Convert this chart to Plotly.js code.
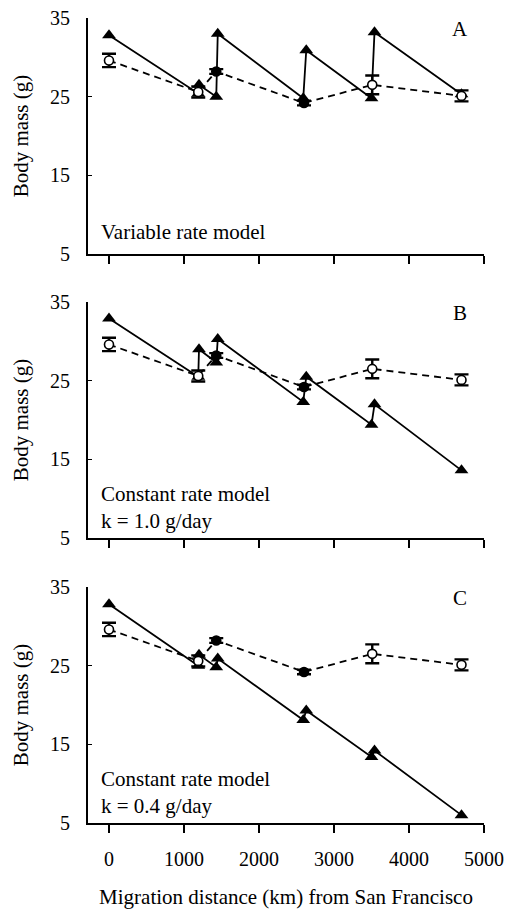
<!DOCTYPE html>
<html>
<head>
<meta charset="utf-8">
<script src="https://cdn.plot.ly/plotly-3.0.1.min.js"></script>
<style>html,body{margin:0;padding:0;background:#fff;}#chart{width:508px;height:909px;}</style>
</head>
<body>
<div id="chart"></div>
<script>
// Observed body mass (open circles, dashed line), mean ± error
const obsX = [0, 1190, 1430, 2600, 3510, 4700];
const obsY = [29.6, 25.6, 28.2, 24.2, 26.5, 25.1];
const obsErr = [0.85, 0.7, 0.3, 0.3, 1.2, 0.7];
const obsFilled = [false, false, true, true, false, false];

// Model predictions (triangles, solid line): arrival / departure at each stopover
const modelX = [0, 1190, 1200, 1430, 1450, 2590, 2630, 3500, 3540, 4700];
const modelA = [32.8, 25.4, 26.5, 25.0, 33.0, 24.8, 30.9, 24.8, 33.2, 25.3];
const modelB = [32.9, 25.5, 29.0, 27.3, 30.3, 22.3, 25.5, 19.4, 22.0, 13.6];
const modelC = [32.8, 25.0, 26.4, 24.8, 25.9, 18.1, 19.3, 13.4, 14.2, 6.0];

const panelLetters = ['A', 'B', 'C'];
const panelNotes = [['Variable rate model'], ['Constant rate model', 'k = 1.0 g/day'], ['Constant rate model', 'k = 0.4 g/day']];
const xTicks = [0, 1000, 2000, 3000, 4000, 5000];
const yTicks = [5, 15, 25, 35];

const FONT = 'Liberation Serif, Times New Roman, serif';
const models = [modelA, modelB, modelC];
const yDomains = [[0.7068, 1.0], [0.3540, 0.6472], [0.0, 0.2932]];

const traces = [];
models.forEach((m, i) => {
  const ax = i === 0 ? '' : String(i + 1);
  traces.push({
    x: modelX, y: m, xaxis: 'x' + ax, yaxis: 'y' + ax,
    mode: 'lines+markers', type: 'scatter', cliponaxis: false,
    line: {color: 'black', width: 1.8},
    marker: {symbol: 'triangle-up', size: 12, color: 'black'},
    hoverinfo: 'skip', showlegend: false
  });
  traces.push({
    x: obsX, y: obsY, xaxis: 'x' + ax, yaxis: 'y' + ax,
    mode: 'lines+markers', type: 'scatter', cliponaxis: false,
    line: {color: 'black', width: 1.8, dash: '7px,5px'},
    marker: {symbol: 'circle', size: 9, color: obsFilled.map(f => f ? 'black' : 'white'), line: {color: 'black', width: 1.6}},
    error_y: {type: 'data', array: obsErr, visible: true, color: 'black', thickness: 2.4, width: 7},
    hoverinfo: 'skip', showlegend: false
  });
});

const layout = {
  width: 508, height: 909,
  margin: {l: 88, r: 24, t: 18, b: 86},
  paper_bgcolor: 'white', plot_bgcolor: 'white',
  font: {family: FONT, size: 21, color: 'black'},
  annotations: []
};

for (let i = 0; i < 3; i++) {
  const ax = i === 0 ? '' : String(i + 1);
  layout['xaxis' + ax] = {
    domain: [0, 1], anchor: 'y' + ax, range: [-280, 5000],
    showline: true, linecolor: 'black', linewidth: 2,
    ticks: 'outside', ticklen: 8, tickwidth: 1.5, tickcolor: 'black',
    tickvals: xTicks, ticktext: xTicks.map(String),
    showticklabels: i === 2, ticklabelstandoff: 9,
    showgrid: false, zeroline: false, automargin: false,
    tickfont: {family: FONT, size: 20},
    title: i === 2 ? {text: 'Migration distance (km) from San Francisco', font: {family: FONT, size: 21}, standoff: 20} : {text: ''}
  };
  layout['yaxis' + ax] = {
    domain: yDomains[i], anchor: 'x' + ax, range: [5, 35],
    showline: true, linecolor: 'black', linewidth: 2,
    ticks: 'inside', ticklen: 4, tickwidth: 1.5, tickcolor: 'black',
    tickvals: yTicks, ticktext: yTicks.map(String), ticklabelstandoff: 12,
    showgrid: false, zeroline: false, automargin: false,
    tickfont: {family: FONT, size: 20},
    title: {text: 'Body mass (g)', font: {family: FONT, size: 21}, standoff: 16}
  };
  layout.annotations.push({
    xref: 'x' + ax, yref: 'y' + ax, x: 4680, y: 33.6, text: panelLetters[i],
    showarrow: false, xanchor: 'center', yanchor: 'middle', font: {family: FONT, size: 21}
  });
  const notes = panelNotes[i];
  const ys = notes.length === 1 ? [7.8] : [10.6, 7.2];
  notes.forEach((t, k) => {
    layout.annotations.push({
      xref: 'x' + ax, yref: 'y' + ax, x: -130, y: ys[k], text: t,
      showarrow: false, xanchor: 'left', yanchor: 'middle', font: {family: FONT, size: 21}
    });
  });
}

Plotly.newPlot('chart', traces, layout, {staticPlot: true, displayModeBar: false});
</script>
</body>
</html>
